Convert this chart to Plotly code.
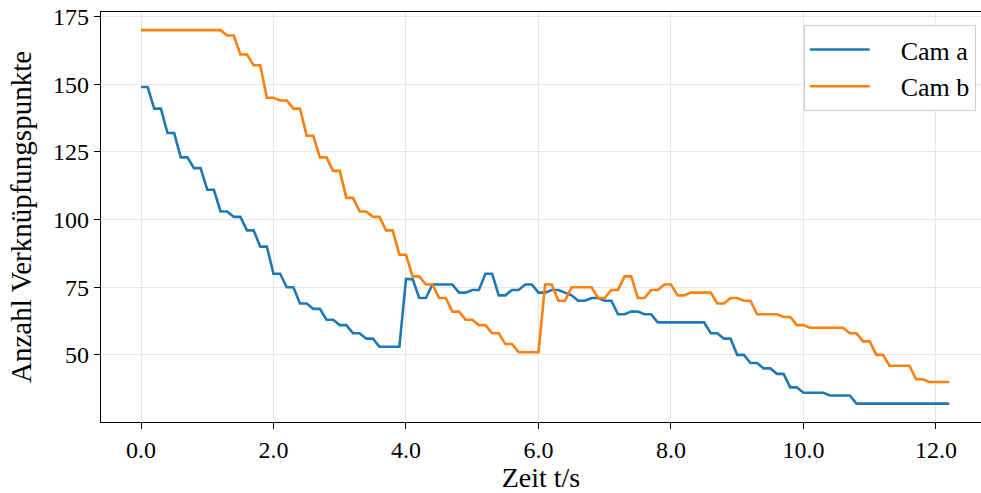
import plotly.graph_objects as go

t = [round(i * 0.1, 1) for i in range(123)]

cam_a = [
    149, 149, 141, 141, 132, 132, 123, 123, 119, 119,   # 0.0-0.9
    111, 111, 103, 103, 101, 101, 96, 96, 90, 90,       # 1.0-1.9
    80, 80, 75, 75, 69, 69, 67, 67, 63, 63,             # 2.0-2.9
    61, 61, 58, 58, 56, 56, 53, 53, 53, 53,             # 3.0-3.9
    78, 78, 71, 71, 76, 76, 76, 76, 73, 73,             # 4.0-4.9
    74, 74, 80, 80, 72, 72, 74, 74, 76, 76,             # 5.0-5.9
    73, 73, 74, 74, 73, 72, 70, 70, 71, 71,             # 6.0-6.9
    70, 70, 65, 65, 66, 66, 65, 65, 62, 62,             # 7.0-7.9
    62, 62, 62, 62, 62, 62, 58, 58, 56, 56,             # 8.0-8.9
    50, 50, 47, 47, 45, 45, 43, 43, 38, 38,             # 9.0-9.9
    36, 36, 36, 36, 35, 35, 35, 35, 32, 32,             # 10.0-10.9
    32, 32, 32, 32, 32, 32, 32, 32, 32, 32,             # 11.0-11.9
    32, 32, 32,                                         # 12.0-12.2
]

cam_b = [
    170, 170, 170, 170, 170, 170, 170, 170, 170, 170,   # 0.0-0.9
    170, 170, 170, 168, 168, 161, 161, 157, 157, 145,   # 1.0-1.9
    145, 144, 144, 141, 141, 131, 131, 123, 123, 118,   # 2.0-2.9
    118, 108, 108, 103, 103, 101, 101, 96, 96, 87,      # 3.0-3.9
    87, 79, 79, 76, 76, 71, 71, 66, 66, 63,             # 4.0-4.9
    63, 61, 61, 58, 58, 54, 54, 51, 51, 51,             # 5.0-5.9
    51, 76, 76, 70, 70, 75, 75, 75, 75, 71,             # 6.0-6.9
    71, 74, 74, 79, 79, 71, 71, 74, 74, 76,             # 7.0-7.9
    76, 72, 72, 73, 73, 73, 73, 69, 69, 71,             # 8.0-8.9
    71, 70, 70, 65, 65, 65, 65, 64, 64, 61,             # 9.0-9.9
    61, 60, 60, 60, 60, 60, 60, 58, 58, 55,             # 10.0-10.9
    55, 50, 50, 46, 46, 46, 46, 41, 41, 40,             # 11.0-11.9
    40, 40, 40,                                         # 12.0-12.2
]

series_names = ["Cam a", "Cam b"]
x_ticks = [0, 2, 4, 6, 8, 10, 12]
x_tick_labels = ["0.0", "2.0", "4.0", "6.0", "8.0", "10.0", "12.0"]
y_ticks = [50, 75, 100, 125, 150, 175]

FONT = "Liberation Serif"
PAD = "\u00a0\u00a0\u00a0\u00a0"

fig = go.Figure()
fig.add_trace(go.Scatter(x=t, y=cam_a, mode="lines", name=PAD + series_names[0],
                         line=dict(color="#1f77b4", width=2.6)))
fig.add_trace(go.Scatter(x=t, y=cam_b, mode="lines", name=PAD + series_names[1],
                         line=dict(color="#ff7f0e", width=2.6)))

fig.update_layout(
    width=981, height=493,
    margin=dict(l=101, r=0, t=12, b=71),
    paper_bgcolor="white", plot_bgcolor="white",
    font=dict(family=FONT, size=24, color="black"),
    legend=dict(x=0.994, y=0.968, xanchor="right", yanchor="top",
                bgcolor="white", bordercolor="#cccccc", borderwidth=1,
                font=dict(family=FONT, size=26), itemwidth=60,
                tracegroupgap=2),
    showlegend=True,
)
fig.update_xaxes(
    range=[-0.604, 12.68], tickvals=x_ticks, ticktext=x_tick_labels,
    showgrid=True, gridcolor="#e6e6e6", gridwidth=1,
    showline=True, linecolor="black", linewidth=1.2, mirror=True,
    ticks="outside", ticklen=6, tickcolor="black", tickwidth=1.2,
    zeroline=False,
    title=dict(text="Zeit t/s", standoff=6, font=dict(family=FONT, size=28)),
    tickfont=dict(family=FONT, size=24),
)
fig.update_yaxes(
    range=[25.2, 176.7], tickvals=y_ticks,
    showgrid=True, gridcolor="#e6e6e6", gridwidth=1,
    showline=True, linecolor="black", linewidth=1.2, mirror=False,
    ticks="outside", ticklen=6, tickcolor="black", tickwidth=1.2,
    zeroline=False,
    title=dict(text="Anzahl Verknüpfungspunkte", standoff=12,
               font=dict(family=FONT, size=29)),
    tickfont=dict(family=FONT, size=24),
)

fig.write_html("out.html")
